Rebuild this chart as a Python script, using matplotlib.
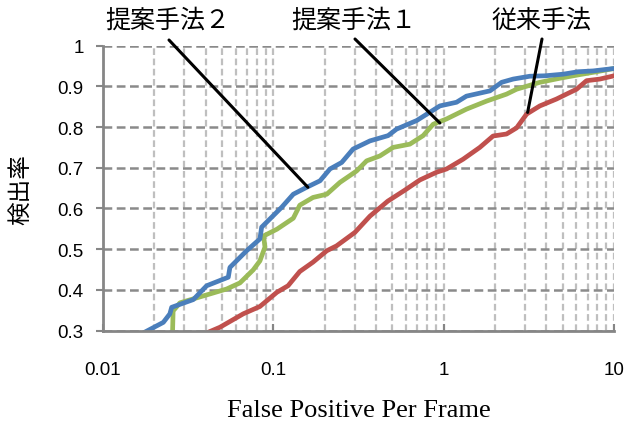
import matplotlib
matplotlib.use("Agg")
import matplotlib.pyplot as plt
from matplotlib.ticker import FixedLocator, LogLocator, NullFormatter

# ---- data ----
fppf_m2 = [0.0176, 0.0226, 0.0247, 0.0253, 0.0339, 0.0406, 0.0544, 0.0556, 0.0697, 0.0834,
           0.0854, 0.112, 0.131, 0.157, 0.188, 0.215, 0.252, 0.294, 0.369, 0.472,
           0.529, 0.694, 0.950, 1.19, 1.36, 1.87, 2.19, 2.56, 3.21, 3.93,
           5.03, 6.16, 7.54, 10.0]
det_m2 = [0.296, 0.320, 0.341, 0.357, 0.376, 0.410, 0.431, 0.455, 0.496, 0.525,
          0.554, 0.603, 0.635, 0.652, 0.668, 0.697, 0.713, 0.746, 0.766, 0.779,
          0.795, 0.816, 0.852, 0.861, 0.876, 0.889, 0.910, 0.918, 0.925, 0.926,
          0.930, 0.936, 0.938, 0.944]

fppf_m1 = [0.0256, 0.0258, 0.0283, 0.0388, 0.0532, 0.0637, 0.0762, 0.0834, 0.0893, 0.0881,
           0.0854, 0.105, 0.131, 0.143, 0.171, 0.206, 0.246, 0.308, 0.353, 0.422,
           0.505, 0.633, 0.758, 0.868, 1.04, 1.36, 1.79, 2.34, 2.68, 3.67,
           4.81, 6.30, 7.90, 10.0]
det_m1 = [0.295, 0.348, 0.368, 0.385, 0.402, 0.417, 0.449, 0.471, 0.505, 0.525,
          0.530, 0.549, 0.576, 0.608, 0.627, 0.635, 0.664, 0.692, 0.717, 0.729,
          0.750, 0.758, 0.779, 0.807, 0.820, 0.844, 0.864, 0.881, 0.893, 0.910,
          0.920, 0.929, 0.936, 0.944]

fppf_conv = [0.0406, 0.0486, 0.0666, 0.0834, 0.105, 0.122, 0.143, 0.171, 0.206, 0.235,
             0.301, 0.369, 0.470, 0.592, 0.725, 0.909, 1.04, 1.30, 1.63, 1.95,
             2.34, 2.68, 3.07, 3.67, 4.60, 5.26, 6.03, 6.90, 8.26, 10.0]
det_conv = [0.294, 0.308, 0.341, 0.359, 0.394, 0.410, 0.445, 0.468, 0.496, 0.508,
            0.541, 0.581, 0.618, 0.645, 0.670, 0.689, 0.697, 0.721, 0.750, 0.778,
            0.783, 0.798, 0.832, 0.852, 0.869, 0.881, 0.893, 0.914, 0.918, 0.926]

series_names = ["提案手法２", "提案手法１", "従来手法"]
x_ticks = [0.01, 0.1, 1, 10]
x_ticklabels = ["0.01", "0.1", "1", "10"]
y_ticks = [0.3, 0.4, 0.5, 0.6, 0.7, 0.8, 0.9, 1.0]
y_ticklabels = ["0.3", "0.4", "0.5", "0.6", "0.7", "0.8", "0.9", "1"]
x_label = "False Positive Per Frame"
y_label = "検出率"

# ---- figure ----
fig = plt.figure(figsize=(6.25, 4.27), dpi=100)
W, H = 625, 427
ax = fig.add_axes([103 / W, 1 - 331.5 / H, (614 - 103) / W, (331.5 - 46.7) / H])

c_blue, c_green, c_red = "#4A7EBB", "#9BBB59", "#C0504D"
lw = 3.4
ax.plot(fppf_m2, det_m2, color=c_blue, lw=lw, solid_joinstyle="round", zorder=4)
ax.plot(fppf_m1, det_m1, color=c_green, lw=lw, solid_joinstyle="round", zorder=3)
ax.plot(fppf_conv, det_conv, color=c_red, lw=lw, solid_joinstyle="round", zorder=3)

ax.set_xscale("log")
ax.set_xlim(0.01, 10)
ax.set_ylim(0.3, 1.0)

ax.xaxis.set_major_locator(FixedLocator(x_ticks))
ax.set_xticklabels(x_ticklabels)
ax.xaxis.set_minor_locator(LogLocator(base=10, subs=range(2, 10)))
ax.xaxis.set_minor_formatter(NullFormatter())
ax.set_yticks(y_ticks)
ax.set_yticklabels(y_ticklabels)

tick_font = "Liberation Sans"
for lab in ax.get_xticklabels() + ax.get_yticklabels():
    lab.set_fontfamily(tick_font)
    lab.set_fontsize(13.5)

spine_c = "#868686"
ax.tick_params(axis="x", which="major", direction="in", length=5, width=1.5,
               color=spine_c, pad=22)
ax.tick_params(axis="x", which="minor", length=0)
ax.tick_params(axis="y", which="major", direction="out", length=5, width=1.5,
               color=spine_c, pad=9)

for s in ["top", "right"]:
    ax.spines[s].set_visible(False)
for s in ["left", "bottom"]:
    ax.spines[s].set_color(spine_c)
    ax.spines[s].set_linewidth(2)
    ax.spines[s].set_zorder(5)

ax.set_axisbelow(True)
ax.xaxis.grid(True, which="both", color="#BFBFBF", lw=1.6, ls=(0, (3, 1.6)))
ax.yaxis.grid(True, which="major", color="#8A8A8A", lw=1.8, ls=(0, (3.5, 1.8)))

ax.set_xlabel(x_label, fontfamily="Liberation Serif", fontsize=19, labelpad=15)
ax.set_ylabel(y_label, fontfamily=["Noto Sans CJK JP", "DejaVu Sans"], fontsize=17,
              labelpad=18)

# ---- annotations ----
ann_points = [(0.1596, 0.652), (0.95, 0.810), (3.11, 0.836)]
line_starts = [(169, 41), (355, 40), (542, 40)]
text_centers = [(168, 21), (354, 21), (542, 21)]
for name, pt, ls_, tc in zip(series_names, ann_points, line_starts, text_centers):
    ax.annotate("", xy=pt, xycoords="data",
                xytext=(ls_[0], H - ls_[1]), textcoords="figure pixels",
                arrowprops=dict(arrowstyle="-", color="black", lw=2.2,
                                shrinkA=0, shrinkB=0),
                annotation_clip=False, zorder=6)
    fig.text(tc[0] / W, 1 - tc[1] / H, name, ha="center", va="center",
             fontsize=18, family=["Noto Sans CJK JP", "DejaVu Sans"])

fig.savefig("out.png", dpi=100)
